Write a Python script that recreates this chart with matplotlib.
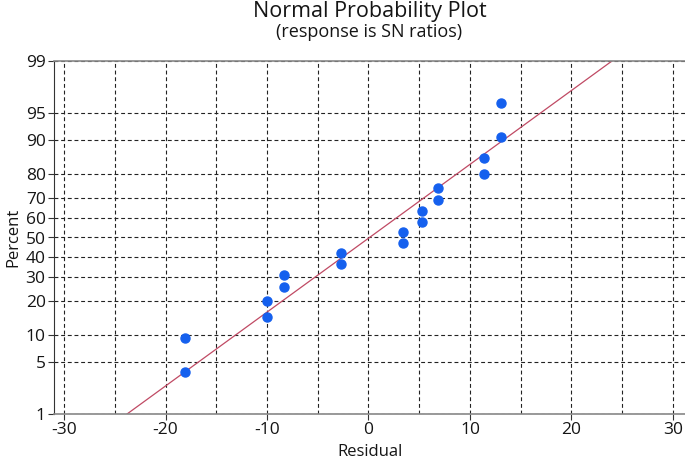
import numpy as np
import matplotlib
matplotlib.use("Agg")
import matplotlib.pyplot as plt
from statistics import NormalDist

residuals = [-18.1, -18.1, -10.0, -10.0, -8.3, -8.3, -2.7, -2.7, 3.4, 3.4,
             5.3, 5.3, 6.9, 6.9, 11.4, 11.4, 13.1, 13.1]
percents = [3.8, 9.2, 14.7, 20.1, 25.5, 31.0, 36.4, 41.8, 47.3, 52.7,
            58.2, 63.6, 69.0, 74.5, 79.9, 85.3, 90.8, 96.2]
fit_x = [-23.8, 24.0]
fit_pct = [1, 99]
y_ticks = [1, 5, 10, 20, 30, 40, 50, 60, 70, 80, 90, 95, 99]
x_ticks = [-30, -20, -10, 0, 10, 20, 30]
x_grid = [-30, -25, -20, -15, -10, -5, 0, 5, 10, 15, 20, 25, 30]

_nd = NormalDist()

def fwd(p):
    p = np.asarray(p, dtype=float)
    q = np.clip(p / 100.0, 1e-9, 1 - 1e-9)
    return np.vectorize(_nd.inv_cdf)(q) if q.size else q

def inv(z):
    z = np.asarray(z, dtype=float)
    return np.vectorize(_nd.cdf)(z) * 100.0 if z.size else z

plt.rcParams['font.family'] = ['Open Sans', 'DejaVu Sans']
TXT = '#151515'

fig = plt.figure(figsize=(6.85, 4.61), dpi=100)
ax = fig.add_axes([54/685, (461-414)/461, 1 - 54/685, (414-61)/461])
ax.set_yscale('function', functions=(fwd, inv))
ax.set_ylim(1, 99)
ax.set_xlim(-31.0, 31.2)

for xv in x_grid:
    ax.axvline(xv, color='#222222', lw=0.8, ls=(0, (3.5, 2.5)), zorder=1)
for yv in y_ticks:
    ax.axhline(yv, color='#222222', lw=0.8, ls=(0, (3.5, 2.5)), zorder=1)

ax.plot(fit_x, fit_pct, color='#c04a64', lw=0.9, zorder=2)
ax.plot(residuals, percents, 'o', color='#1560ee', ms=6.5, mec='#1560ee', zorder=3)

ax.set_xticks(x_ticks)
ax.set_xticklabels([str(v) for v in x_ticks])
ax.set_yticks(y_ticks)
ax.set_yticklabels([str(v) for v in y_ticks])
ax.minorticks_off()
ax.tick_params(axis='both', labelsize=12.5, length=4, width=0.8, color='#333333',
               pad=2, labelcolor=TXT)

for s in ['top', 'bottom']:
    ax.spines[s].set_color('#888888')
    ax.spines[s].set_linewidth(1.2)
ax.spines['left'].set_color('#333333')
ax.spines['left'].set_linewidth(0.8)
ax.spines['right'].set_visible(False)

ax.set_ylabel('Percent', fontsize=12, labelpad=3, color=TXT)
fig.text((370) / 685, 1.5 / 461, 'Residual', ha='center', va='bottom',
         fontsize=12, color=TXT)

fig.text(0.5 + 27/685, 1 - 11/461, 'Normal Probability Plot', ha='center', va='center',
         fontsize=15.5, color=TXT)
fig.text(0.5 + 27/685, 1 - 32/461, '(response is SN ratios)', ha='center', va='center',
         fontsize=13, color=TXT)

fig.savefig('out.png', dpi=100)
